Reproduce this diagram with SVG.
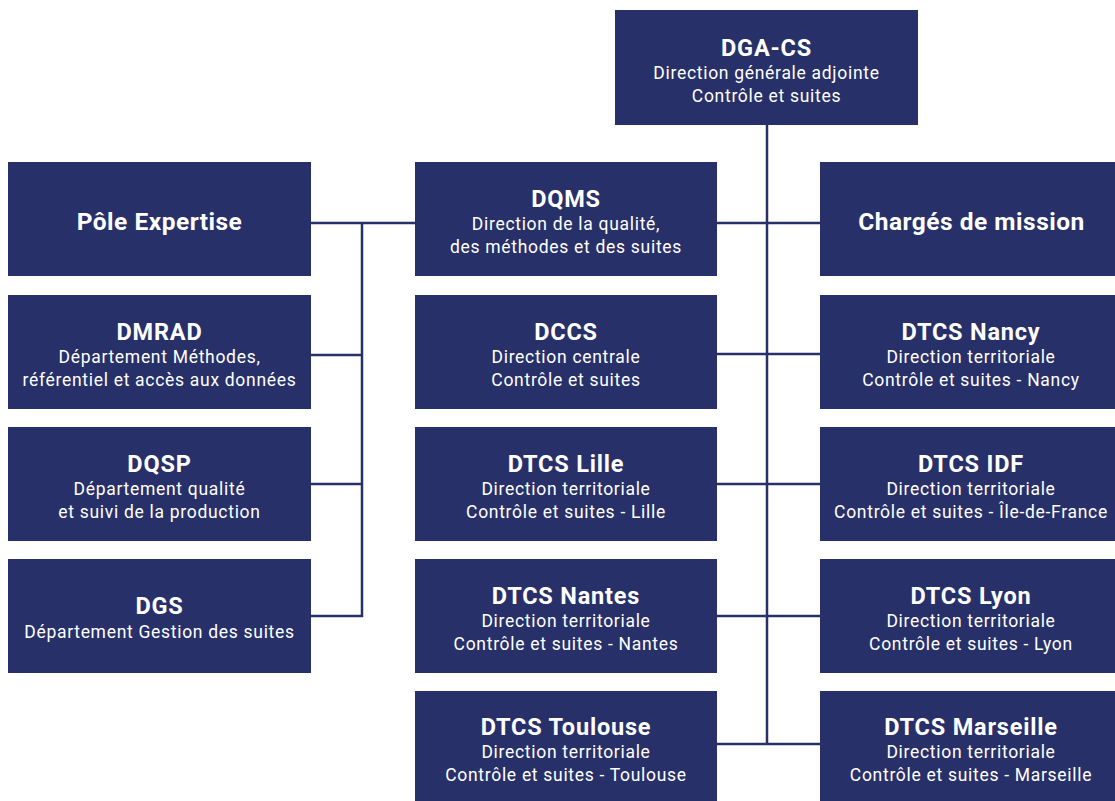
<svg xmlns="http://www.w3.org/2000/svg" width="1115" height="801" viewBox="0 0 1115 801">
<style>
.box{fill:#283069}
.t{font-family:Roboto,"Liberation Sans",sans-serif;font-weight:bold;font-size:23.5px;letter-spacing:0.8px;fill:#fff;text-anchor:middle}
.big{font-size:24.5px;letter-spacing:0.5px}
.s{font-family:Roboto,"Liberation Sans",sans-serif;font-size:17.5px;letter-spacing:0.7px;fill:#fff;text-anchor:middle}
.ln{stroke:#283069;stroke-width:2.5;fill:none}
</style>
<rect width="1115" height="801" fill="#fff"/>
<g id="connectors">
<path class="ln" d="M767 125V744"/>
<path class="ln" d="M717 223H820M717 354H820M717 484H820M717 616H820M717 744H820"/>
<path class="ln" d="M311 223H415M362 223V616H311M311 355H362M311 484H362"/>
</g>
<g id="dgacs"><rect class="box" x="615" y="10" width="303" height="115"/><text class="t" x="766.5" y="56">DGA-CS</text><text class="s" x="766.5" y="79">Direction générale adjointe</text><text class="s" x="766.5" y="102">Contrôle et suites</text></g>
<g id="pole"><rect class="box" x="8" y="162" width="303" height="114"/><text class="t big" x="159.5" y="230">Pôle Expertise</text></g>
<g id="dqms"><rect class="box" x="415" y="162" width="302" height="114"/><text class="t" x="566" y="207">DQMS</text><text class="s" x="566" y="230">Direction de la qualité,</text><text class="s" x="566" y="253">des méthodes et des suites</text></g>
<g id="charges"><rect class="box" x="820" y="162" width="295" height="114"/><text class="t big" x="971.5" y="230">Chargés de mission</text></g>
<g id="dmrad"><rect class="box" x="8" y="295" width="303" height="114"/><text class="t" x="159.5" y="340">DMRAD</text><text class="s" x="159.5" y="363">Département Méthodes,</text><text class="s" x="159.5" y="386">référentiel et accès aux données</text></g>
<g id="dccs"><rect class="box" x="415" y="295" width="302" height="114"/><text class="t" x="566" y="340">DCCS</text><text class="s" x="566" y="363">Direction centrale</text><text class="s" x="566" y="386">Contrôle et suites</text></g>
<g id="nancy"><rect class="box" x="820" y="295" width="295" height="114"/><text class="t" x="971" y="340">DTCS Nancy</text><text class="s" x="971" y="363">Direction territoriale</text><text class="s" x="971" y="386">Contrôle et suites - Nancy</text></g>
<g id="dqsp"><rect class="box" x="8" y="427" width="303" height="114"/><text class="t" x="159.5" y="472">DQSP</text><text class="s" x="159.5" y="495">Département qualité</text><text class="s" x="159.5" y="518">et suivi de la production</text></g>
<g id="lille"><rect class="box" x="415" y="427" width="302" height="114"/><text class="t" x="566" y="472">DTCS Lille</text><text class="s" x="566" y="495">Direction territoriale</text><text class="s" x="566" y="518">Contrôle et suites - Lille</text></g>
<g id="idf"><rect class="box" x="820" y="427" width="295" height="114"/><text class="t" x="971" y="472">DTCS IDF</text><text class="s" x="971" y="495">Direction territoriale</text><text class="s" x="971" y="518">Contrôle et suites - Île-de-France</text></g>
<g id="dgs"><rect class="box" x="8" y="559" width="303" height="114"/><text class="t" x="159.5" y="614">DGS</text><text class="s" x="159.5" y="638">Département Gestion des suites</text></g>
<g id="nantes"><rect class="box" x="415" y="559" width="302" height="114"/><text class="t" x="566" y="604">DTCS Nantes</text><text class="s" x="566" y="627">Direction territoriale</text><text class="s" x="566" y="650">Contrôle et suites - Nantes</text></g>
<g id="lyon"><rect class="box" x="820" y="559" width="295" height="114"/><text class="t" x="971" y="604">DTCS Lyon</text><text class="s" x="971" y="627">Direction territoriale</text><text class="s" x="971" y="650">Contrôle et suites - Lyon</text></g>
<g id="toulouse"><rect class="box" x="415" y="691" width="302" height="110"/><text class="t" x="566" y="735">DTCS Toulouse</text><text class="s" x="566" y="758">Direction territoriale</text><text class="s" x="566" y="781">Contrôle et suites - Toulouse</text></g>
<g id="marseille"><rect class="box" x="820" y="691" width="295" height="110"/><text class="t" x="971" y="735">DTCS Marseille</text><text class="s" x="971" y="758">Direction territoriale</text><text class="s" x="971" y="781">Contrôle et suites - Marseille</text></g>
</svg>
